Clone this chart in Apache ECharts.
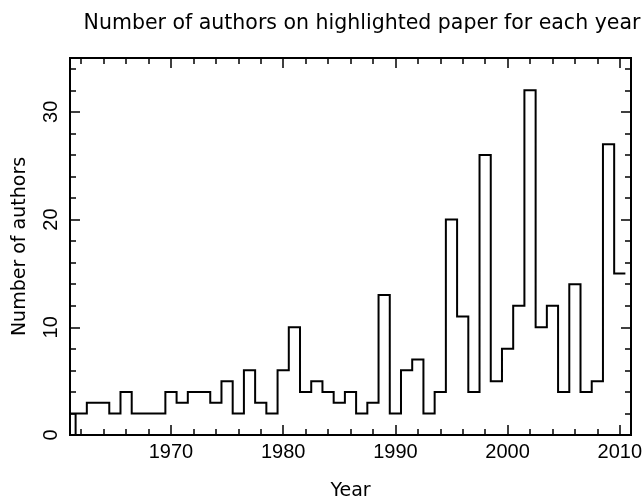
<!DOCTYPE html>
<html><head><meta charset="utf-8">
<script src="https://cdn.jsdelivr.net/npm/echarts@6/dist/echarts.min.js"></script>
<style>html,body{margin:0;padding:0;background:#fff}#c{width:644px;height:501px}</style>
</head><body><div id="c"></div>
<script>
const titleText = 'Number of authors on highlighted paper for each year';
const xName = 'Year';
const yName = 'Number of authors';
const years = [1961,1962,1963,1964,1965,1966,1967,1968,1969,1970,
               1971,1972,1973,1974,1975,1976,1977,1978,1979,1980,
               1981,1982,1983,1984,1985,1986,1987,1988,1989,1990,
               1991,1992,1993,1994,1995,1996,1997,1998,1999,2000,
               2001,2002,2003,2004,2005,2006,2007,2008,2009,2010];
const authors = [2,2,3,3,2,4,2,2,2,4,
                 3,4,4,3,5,2,6,3,2,6,
                 10,4,5,4,3,4,2,3,13,2,
                 6,7,2,4,20,11,4,26,5,8,
                 12,32,10,12,4,14,4,5,27,15];
const xTickLabels = [1970,1980,1990,2000,2010];
const yTickLabels = [0,10,20,30];

// histogram outline built from the data (bins centred on each year)
const path = [];
years.forEach((y, i) => {
  path.push([y - 0.5, authors[i]], [y + 0.5, authors[i]]);
  if (i === 0) path.push([y + 0.5, 0], [y + 0.5, authors[i]]);
});

const black = '#000';
const tickLine = {color: black, width: 1.5};
const gridRect = {left: 70, right: 13, top: 58, bottom: 66, containLabel: false, outerBoundsMode: 'none'};
function xAx(pos, major) {
  return {
    type: 'value', gridIndex: major ? 0 : 1, position: pos, min: 1961, max: 2011,
    splitNumber: major ? 5 : 25, minInterval: major ? 10 : 2, maxInterval: major ? 10 : 2,
    axisLine: {show: false, onZero: false},
    axisTick: {show: true, inside: true, length: major ? 10 : 6, lineStyle: tickLine},
    splitLine: {show: false},
    axisLabel: {
      show: major && pos === 'bottom', margin: 7, color: black,
      fontFamily: 'Liberation Sans', fontSize: 20,
      formatter: v => xTickLabels.indexOf(Math.round(v)) >= 0 ? String(Math.round(v)) : ''
    },
    name: (major && pos === 'bottom') ? xName : '',
    nameLocation: 'middle', nameGap: 47,
    nameTextStyle: {color: black, fontFamily: 'DejaVu Sans', fontSize: 19}
  };
}
function yAx(pos, major) {
  return {
    type: 'value', gridIndex: major ? 0 : 1, position: pos, min: 0, max: 35, interval: major ? 10 : 2,
    axisLine: {show: false, onZero: false},
    axisTick: {show: true, inside: true, length: major ? 10 : 6, lineStyle: tickLine},
    splitLine: {show: false},
    axisLabel: {
      show: major && pos === 'left', rotate: 90, margin: 9, color: black,
      fontFamily: 'Liberation Sans', fontSize: 20,
      formatter: v => yTickLabels.indexOf(v) >= 0 ? String(v) : ''
    },
    name: (major && pos === 'left') ? yName : '',
    nameLocation: 'middle', nameGap: 40, nameRotate: 90,
    nameTextStyle: {color: black, fontFamily: 'DejaVu Sans', fontSize: 19}
  };
}

const chart = echarts.init(document.getElementById('c'), null, {renderer: 'canvas'});
chart.setOption({
  animation: false,
  backgroundColor: '#fff',
  title: {
    text: titleText, left: 357, top: 8, textAlign: 'center',
    textStyle: {color: black, fontFamily: 'DejaVu Sans', fontSize: 20.5, fontWeight: 'normal'}
  },
  grid: [
    Object.assign({show: true, borderColor: black, borderWidth: 2, backgroundColor: 'transparent'}, gridRect),
    Object.assign({show: false}, gridRect)
  ],
  xAxis: [xAx('bottom', true), xAx('top', true), xAx('bottom', false), xAx('top', false)],
  yAxis: [yAx('left', true), yAx('right', true), yAx('left', false), yAx('right', false)],
  series: [{
    type: 'line', xAxisIndex: 0, yAxisIndex: 0, data: path, showSymbol: false, symbol: 'none',
    clip: true, lineStyle: {color: black, width: 2, join: 'miter'}
  }]
});
</script>
</body></html>
